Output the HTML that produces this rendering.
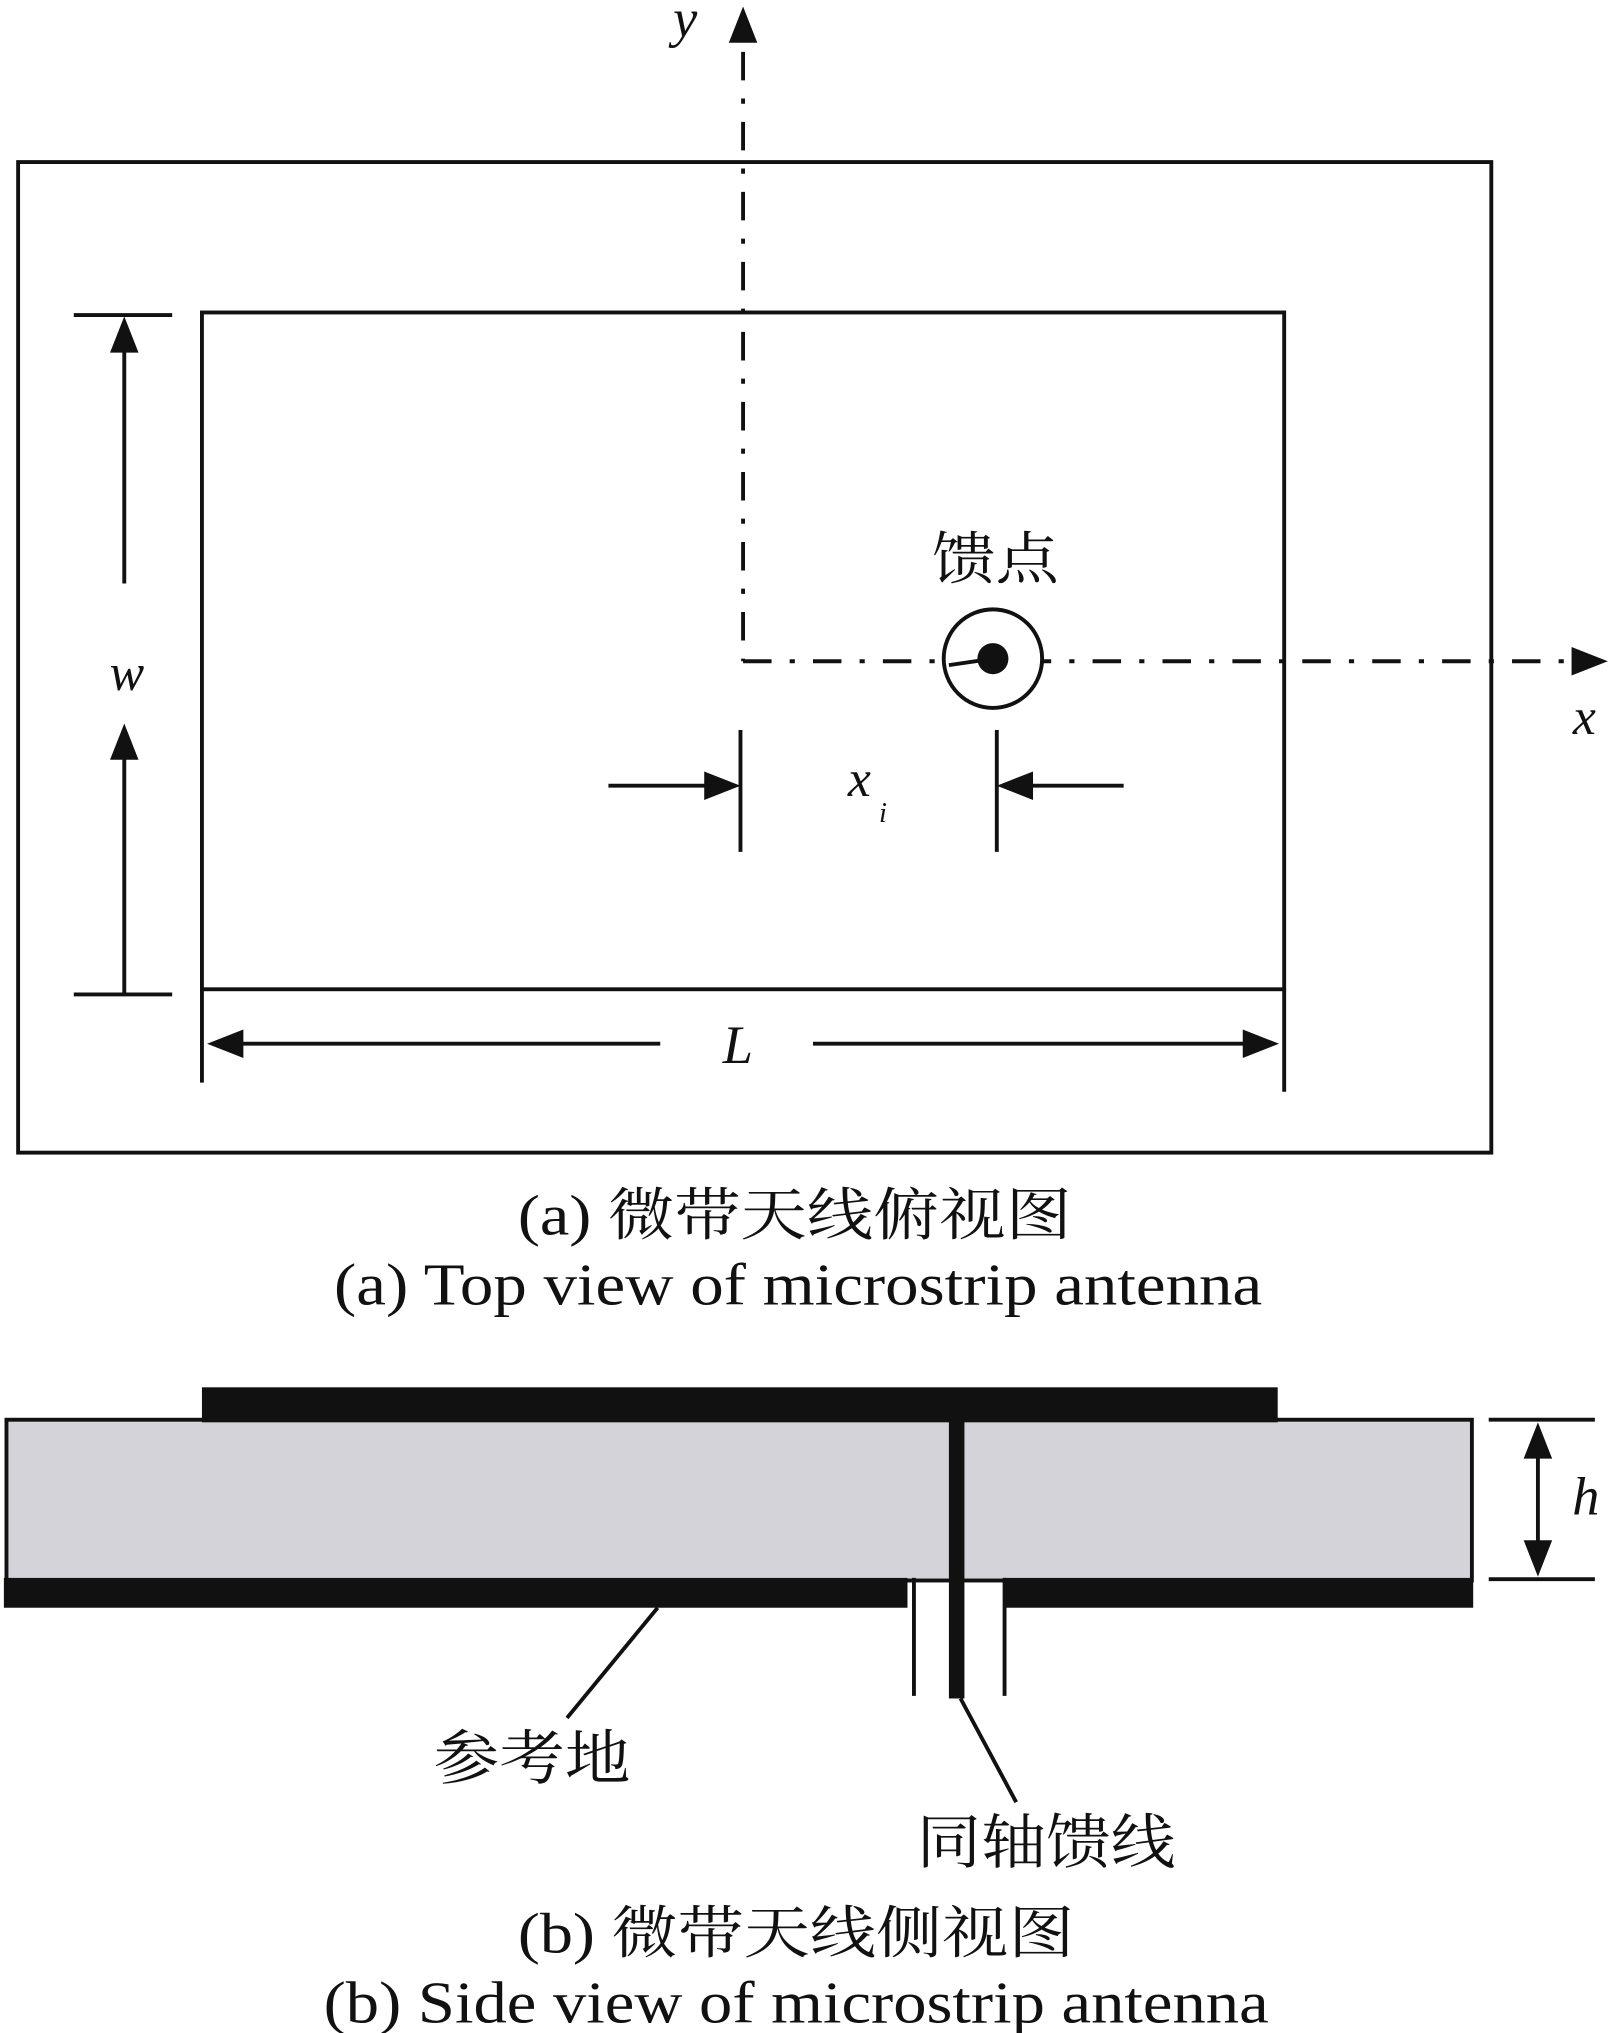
<!DOCTYPE html>
<html><head><meta charset="utf-8">
<style>
html,body{margin:0;padding:0;background:#fff;}
svg{display:block;}
text{font-family:"Liberation Serif","Noto Serif CJK SC","Noto Sans CJK SC",serif;fill:#111;}
.it{font-style:italic;}
</style></head>
<body>
<svg width="1613" height="2033" viewBox="0 0 1246 1568" preserveAspectRatio="none" xmlns="http://www.w3.org/2000/svg">
<g stroke="#111" stroke-width="3" fill="none">
<rect x="14" y="125" width="1138" height="764"/>
<rect x="156" y="241" width="836" height="522"/>
</g>
<line x1="574" y1="40" x2="574" y2="510" stroke="#111" stroke-width="3" stroke-dasharray="22,14,4,14"/>
<polygon points="574,5 563,33 585,33" fill="#111"/>
<text x="520" y="28" font-size="42" class="it">y</text>
<line x1="574" y1="510" x2="1215" y2="510" stroke="#111" stroke-width="3" stroke-dasharray="22,14,4,14"/>
<polygon points="1242,510 1214,499 1214,521" fill="#111"/>
<text x="1215" y="566" font-size="40" class="it">x</text>
<circle cx="767" cy="508" r="38" fill="#fff" stroke="#111" stroke-width="3"/>
<circle cx="767" cy="508" r="12" fill="#111"/>
<line x1="733" y1="513" x2="767" y2="508" stroke="#111" stroke-width="3"/>
<text x="720" y="446" font-size="44" textLength="98" lengthAdjust="spacingAndGlyphs">馈点</text>
<g stroke="#111" stroke-width="3">
<line x1="57" y1="243" x2="133" y2="243"/>
<line x1="57" y1="767" x2="133" y2="767"/>
<line x1="96" y1="450" x2="96" y2="265"/>
<line x1="96" y1="767" x2="96" y2="580"/>
</g>
<polygon points="96,244 85,272 107,272" fill="#111"/>
<polygon points="96,558 85,586 107,586" fill="#111"/>
<text x="98" y="532" font-size="40" class="it" text-anchor="middle">w</text>
<g stroke="#111" stroke-width="3">
<line x1="572" y1="563" x2="572" y2="657"/>
<line x1="770" y1="563" x2="770" y2="657"/>
<line x1="470" y1="606" x2="548" y2="606"/>
<line x1="868" y1="606" x2="794" y2="606"/>
</g>
<polygon points="572,606 544,595 544,617" fill="#111"/>
<polygon points="770,606 798,595 798,617" fill="#111"/>
<text x="655" y="614" font-size="40" class="it">x</text>
<text x="679" y="634" font-size="22" class="it">i</text>
<g stroke="#111" stroke-width="3">
<line x1="156" y1="763" x2="156" y2="835"/>
<line x1="992" y1="763" x2="992" y2="842"/>
<line x1="185" y1="805" x2="510" y2="805"/>
<line x1="628" y1="805" x2="962" y2="805"/>
</g>
<polygon points="160,805 188,794 188,816" fill="#111"/>
<polygon points="988,805 960,794 960,816" fill="#111"/>
<text x="570" y="820" font-size="42" class="it" text-anchor="middle">L</text>
<text x="400" y="952" font-size="44" textLength="428" lengthAdjust="spacingAndGlyphs">(a) 微带天线俯视图</text>
<text x="258" y="1006" font-size="46" textLength="717" lengthAdjust="spacingAndGlyphs">(a) Top view of microstrip antenna</text>
<rect x="5" y="1095" width="1132" height="124" fill="#d4d3d9" stroke="#111" stroke-width="3"/>
<rect x="156" y="1070" width="831" height="27" fill="#111"/>
<rect x="3" y="1217" width="698" height="23" fill="#111"/>
<rect x="776" y="1217" width="362" height="23" fill="#111"/>
<rect x="733" y="1095" width="12" height="215" fill="#111"/>
<g stroke="#111" stroke-width="3">
<line x1="706" y1="1217" x2="706" y2="1308"/>
<line x1="776" y1="1217" x2="776" y2="1308"/>
<line x1="1150" y1="1095" x2="1232" y2="1095"/>
<line x1="1150" y1="1218" x2="1232" y2="1218"/>
<line x1="1188" y1="1120" x2="1188" y2="1195"/>
<line x1="508" y1="1240" x2="438" y2="1325"/>
<line x1="742" y1="1310" x2="785" y2="1390"/>
</g>
<polygon points="1188,1097 1177,1125 1199,1125" fill="#111"/>
<polygon points="1188,1216 1177,1188 1199,1188" fill="#111"/>
<text x="1225" y="1168" font-size="42" class="it" text-anchor="middle">h</text>
<text x="335" y="1372" font-size="46" textLength="152" lengthAdjust="spacingAndGlyphs">参考地</text>
<text x="708" y="1437" font-size="46" textLength="200" lengthAdjust="spacingAndGlyphs">同轴馈线</text>
<text x="400" y="1506" font-size="44" textLength="430" lengthAdjust="spacingAndGlyphs">(b) 微带天线侧视图</text>
<text x="250" y="1560" font-size="46" textLength="730" lengthAdjust="spacingAndGlyphs">(b) Side view of microstrip antenna</text>
</svg>
</body></html>
